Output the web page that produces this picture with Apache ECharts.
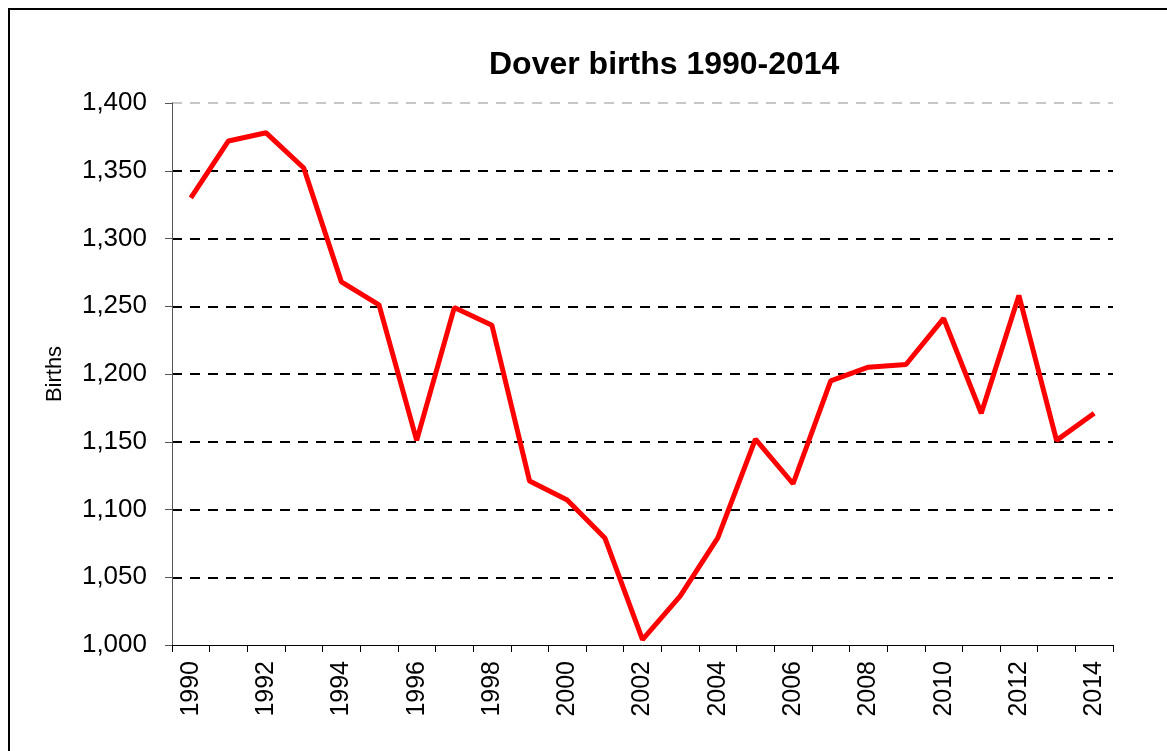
<!DOCTYPE html>
<html>
<head>
<meta charset="utf-8">
<script src="https://cdn.jsdelivr.net/npm/echarts@6/dist/echarts.min.js"></script>
<style>
  html, body { margin: 0; padding: 0; background: #fff; }
  #chart { width: 1167px; height: 751px; }
</style>
</head>
<body>
<div id="chart"></div>
<script>
  // years on the x axis
  var years = ['1990','1991','1992','1993','1994','1995','1996','1997','1998','1999',
               '2000','2001','2002','2003','2004','2005','2006','2007','2008','2009',
               '2010','2011','2012','2013','2014'];
  // births per year
  var births = [1330, 1372, 1378, 1352, 1268, 1251, 1151, 1249, 1236, 1121,
                1107, 1079, 1004, 1036, 1079, 1152, 1119, 1195, 1205, 1207,
                1241, 1171, 1258, 1151, 1171];

  var fontFam = '"Liberation Sans", Arial, sans-serif';
  var myChart = echarts.init(document.getElementById('chart'));

  var option = {
    animation: false,
    title: {
      text: 'Dover births 1990-2014',
      left: 484,
      top: 44,
      textStyle: { color: '#000', fontSize: 32, fontWeight: 'bold', fontFamily: fontFam }
    },
    graphic: [
      {
        type: 'rect',
        shape: { x: 9, y: 9, width: 1200, height: 800 },
        style: { fill: 'none', stroke: '#000', lineWidth: 2 }
      }
    ],
    grid: { left: 172, right: 54, top: 103, bottom: 106 },
    xAxis: {
      type: 'category',
      data: years,
      boundaryGap: true,
      axisLine: { lineStyle: { color: '#000', width: 1 } },
      axisTick: { show: true, interval: 0, length: 7, lineStyle: { color: '#000' } },
      axisLabel: {
        interval: 1,
        rotate: 90,
        margin: 16,
        color: '#000',
        fontSize: 25,
        fontFamily: fontFam
      },
      splitLine: { show: false }
    },
    yAxis: {
      type: 'value',
      min: 1000,
      max: 1400,
      interval: 50,
      name: 'Births',
      nameLocation: 'middle',
      nameGap: 106,
      nameRotate: 90,
      nameTextStyle: { color: '#000', fontSize: 22, fontFamily: fontFam },
      axisLine: { show: true, lineStyle: { color: '#555', width: 1 } },
      axisTick: { show: true, length: 7, lineStyle: { color: '#555' } },
      axisLabel: {
        margin: 25,
        color: '#000',
        fontSize: 26,
        fontFamily: fontFam,
        formatter: function (v) { return v.toLocaleString('en-US'); }
      },
      splitLine: {
        show: true,
        lineStyle: {
          color: ['transparent', '#000', '#000', '#000', '#000', '#000', '#000', '#000', '#c8c8c8'],
          width: 2,
          type: [10, 8]
        }
      }
    },
    series: [
      {
        name: 'Births',
        type: 'line',
        data: births,
        symbol: 'none',
        lineStyle: { color: '#ff0000', width: 5 },
        itemStyle: { color: '#ff0000' }
      }
    ]
  };

  myChart.setOption(option);
</script>
</body>
</html>
